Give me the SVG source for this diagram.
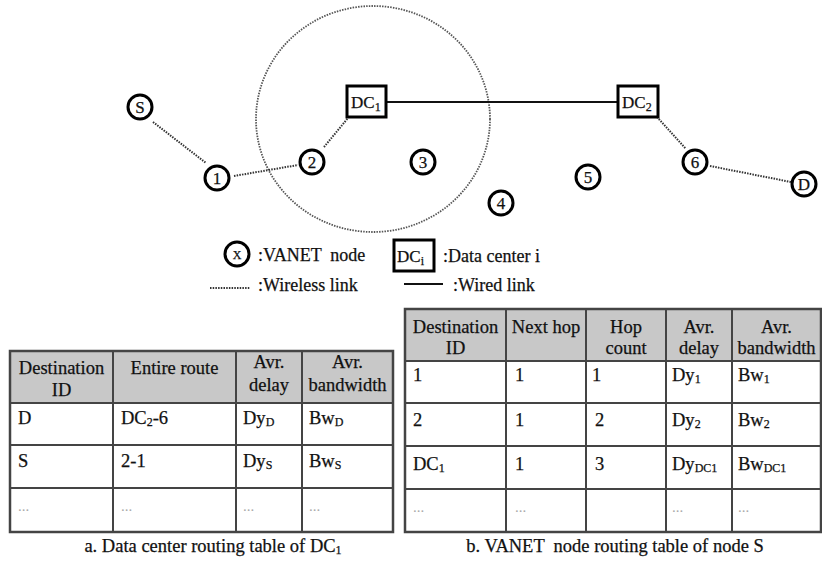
<svg xmlns="http://www.w3.org/2000/svg" width="822" height="561" viewBox="0 0 822 561">
<style>
text{font-family:"Liberation Serif","Times New Roman",serif;fill:#111;stroke:#111;stroke-width:0.25}
.node circle{fill:#fff;stroke:#000;stroke-width:3}
.node text{font-size:17px;text-anchor:middle}
.dc rect{fill:#fff;stroke:#000;stroke-width:3}
.dc text{font-size:17px}
.wl{stroke:#333;stroke-width:2;stroke-dasharray:1.5 1.2;fill:none}
.wd{stroke:#111;stroke-width:2;fill:none}
.lg{font-size:18px}
.hd{fill:#c8c8c8}
.grid{stroke:#444;stroke-width:2;fill:none}
.outer{stroke:#444;stroke-width:2.5;fill:none}
.t{font-size:18.5px}
.c{text-anchor:middle}
.dots text{fill:#aaa;stroke:none;font-size:15px}
.sub{font-size:12px}
</style>

<ellipse cx="373" cy="119" rx="117" ry="113" fill="none" stroke="#555" stroke-width="1.8" stroke-dasharray="1.5 1.2"/>

<g id="connectors">
<line class="wl" x1="153" y1="122" x2="206" y2="163"/>
<line class="wl" x1="234" y1="176" x2="298" y2="165"/>
<line class="wl" x1="324" y1="147" x2="348" y2="118"/>
<line class="wl" x1="657" y1="117" x2="686" y2="149"/>
<line class="wl" x1="710" y1="166" x2="791" y2="182"/>
<line class="wd" x1="386" y1="102" x2="618" y2="102"/>
</g>

<g id="node-S" class="node"><circle cx="140" cy="107" r="12"/><text x="140" y="113">S</text></g>
<g id="node-1" class="node"><circle cx="217" cy="178" r="12"/><text x="217" y="184">1</text></g>
<g id="node-2" class="node"><circle cx="312" cy="162" r="12"/><text x="312" y="168">2</text></g>
<g id="node-3" class="node"><circle cx="423" cy="162" r="12"/><text x="423" y="168">3</text></g>
<g id="node-4" class="node"><circle cx="501" cy="203" r="12"/><text x="501" y="209">4</text></g>
<g id="node-5" class="node"><circle cx="588" cy="177" r="12"/><text x="588" y="183">5</text></g>
<g id="node-6" class="node"><circle cx="695" cy="162" r="12"/><text x="695" y="168">6</text></g>
<g id="node-D" class="node"><circle cx="804" cy="184" r="12"/><text x="804" y="190">D</text></g>

<g id="dc-1" class="dc"><rect x="347" y="86" width="39" height="31"/><text x="351" y="108">DC<tspan class="sub" dy="3">1</tspan></text></g>
<g id="dc-2" class="dc"><rect x="618" y="86" width="40" height="31"/><text x="622" y="108">DC<tspan class="sub" dy="3">2</tspan></text></g>

<g id="legend">
<g class="node"><circle cx="237" cy="254" r="12"/><text x="237" y="258.5" style="font-size:12px">X</text></g>
<text class="lg" x="258" y="261" xml:space="preserve">:VANET  node</text>
<g class="dc"><rect x="394" y="240" width="40" height="31"/><text x="397" y="262">DC<tspan class="sub" dy="3">i</tspan></text></g>
<text class="lg" x="443" y="262">:Data center i</text>
<line class="wl" x1="210" y1="288" x2="250" y2="288"/>
<text class="lg" x="258" y="291">:Wireless link</text>
<line class="wd" x1="404" y1="284" x2="443" y2="284"/>
<text class="lg" x="453" y="291">:Wired link</text>
</g>

<g id="table-a">
<rect class="hd" x="10" y="351" width="383" height="52"/>
<g class="grid">
<line x1="10" y1="403" x2="393" y2="403"/>
<line x1="10" y1="445" x2="393" y2="445"/>
<line x1="10" y1="488" x2="393" y2="488"/>
<line x1="113" y1="351" x2="113" y2="532"/>
<line x1="236" y1="351" x2="236" y2="532"/>
<line x1="302" y1="351" x2="302" y2="532"/>
</g>
<rect class="outer" x="10" y="351" width="383" height="181"/>
<g class="t">
<text class="c" x="61.5" y="374">Destination</text>
<text class="c" x="61.5" y="396">ID</text>
<text class="c" x="174.5" y="374">Entire route</text>
<text class="c" x="269" y="368">Avr.</text>
<text class="c" x="269" y="391">delay</text>
<text class="c" x="347.5" y="368">Avr.</text>
<text class="c" x="347.5" y="391">bandwidth</text>
<text x="18" y="424">D</text>
<text x="121" y="424">DC<tspan class="sub" dy="2">2</tspan><tspan dy="-2">-6</tspan></text>
<text x="243" y="424">Dy<tspan class="sub" dy="2">D</tspan></text>
<text x="309" y="424">Bw<tspan class="sub" dy="2">D</tspan></text>
<text x="18" y="467">S</text>
<text x="121" y="467">2-1</text>
<text x="243" y="467">Dy<tspan class="sub" dy="2">S</tspan></text>
<text x="309" y="467">Bw<tspan class="sub" dy="2">S</tspan></text>
</g>
<g class="dots">
<text x="18" y="511">...</text>
<text x="121" y="511">...</text>
<text x="243" y="511">...</text>
<text x="309" y="511">...</text>
</g>
<text class="t c" x="213" y="552">a. Data center routing table of DC<tspan class="sub" dy="2">1</tspan></text>
</g>

<g id="table-b">
<rect class="hd" x="405" y="309" width="416" height="52"/>
<g class="grid">
<line x1="405" y1="361" x2="821" y2="361"/>
<line x1="405" y1="403" x2="821" y2="403"/>
<line x1="405" y1="446" x2="821" y2="446"/>
<line x1="405" y1="489" x2="821" y2="489"/>
<line x1="506" y1="309" x2="506" y2="532"/>
<line x1="586" y1="309" x2="586" y2="532"/>
<line x1="666" y1="309" x2="666" y2="532"/>
<line x1="732" y1="309" x2="732" y2="532"/>
</g>
<rect class="outer" x="405" y="309" width="416" height="223"/>
<g class="t">
<text class="c" x="455.5" y="333">Destination</text>
<text class="c" x="455.5" y="354">ID</text>
<text class="c" x="546" y="333">Next hop</text>
<text class="c" x="626" y="333">Hop</text>
<text class="c" x="626" y="354">count</text>
<text class="c" x="699" y="333">Avr.</text>
<text class="c" x="699" y="354">delay</text>
<text class="c" x="776.5" y="333">Avr.</text>
<text class="c" x="776.5" y="354">bandwidth</text>
<text x="413" y="381">1</text>
<text x="515" y="381">1</text>
<text x="592" y="381">1</text>
<text x="672" y="381">Dy<tspan class="sub" dy="2">1</tspan></text>
<text x="738" y="381">Bw<tspan class="sub" dy="2">1</tspan></text>
<text x="413" y="426">2</text>
<text x="515" y="426">1</text>
<text x="595" y="426">2</text>
<text x="672" y="426">Dy<tspan class="sub" dy="2">2</tspan></text>
<text x="738" y="426">Bw<tspan class="sub" dy="2">2</tspan></text>
<text x="413" y="470">DC<tspan class="sub" dy="2">1</tspan></text>
<text x="515" y="470">1</text>
<text x="595" y="470">3</text>
<text x="672" y="470">Dy<tspan class="sub" dy="2">DC1</tspan></text>
<text x="738" y="470">Bw<tspan class="sub" dy="2">DC1</tspan></text>
</g>
<g class="dots">
<text x="413" y="512">...</text>
<text x="515" y="512">...</text>
<text x="672" y="512">...</text>
<text x="738" y="512">...</text>
</g>
<text class="t c" x="615" y="552" xml:space="preserve">b. VANET  node routing table of node S</text>
</g>
</svg>
